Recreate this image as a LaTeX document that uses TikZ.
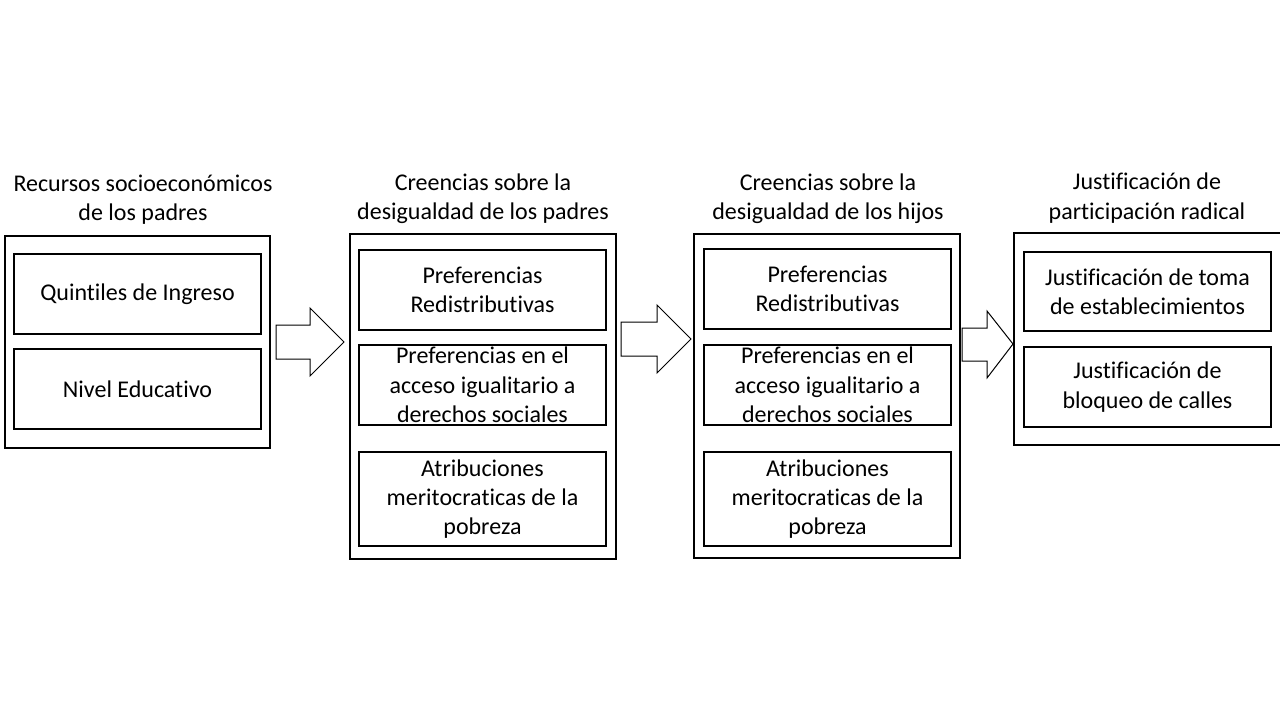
\documentclass[tikz,border=0pt]{standalone}
\usepackage{fontspec}
\setmainfont{Carlito}[RawFeature={-liga;-dlig;-clig}]
\usetikzlibrary{fit}
\tikzset{
  box/.style={draw=black, line width=0.95pt, inner sep=0pt, fill=none},
  txt/.style={align=center, inner sep=0pt, font=\fontsize{18}{22}\selectfont},
  blockarrow/.style={draw=black, line width=0.75pt, fill=white, line join=miter}
}
\begin{document}
\begin{tikzpicture}[x=0.75pt, y=-0.75pt]
\useasboundingbox (0,0) rectangle (1280,720);
\fill[white] (0,0) rectangle (1280,720);

% titles
\node[txt] (t1) at (143,200) {Recursos socioeconómicos\\de los padres};
\node[txt] (t2) at (483,199) {Creencias sobre la\\desigualdad de los padres};
\node[txt] (t3) at (828,199) {Creencias sobre la\\desigualdad de los hijos};
\node[txt] (t4) at (1147,198) {Justificación de\\participación radical};

% group 1
\node[box, fit={(5,236) (270,448)}] (g1) {};
\node[box, fit={(14,254) (261,334)}] (b11) {};
\node[txt] at (b11.center) {Quintiles de Ingreso};
\node[box, fit={(14,349) (261,429)}] (b12) {};
\node[txt] at (b12.center) {Nivel Educativo};

% group 2
\node[box, fit={(350,234) (616,559)}] (g2) {};
\node[box, fit={(359,250) (606,330)}] (b21) {};
\node[txt] at (b21.center) {Preferencias\\Redistributivas};
\node[box, fit={(359,345) (606,425)}] (b22) {};
\node[txt] at (b22.center) {Preferencias en el\\acceso igualitario a\\derechos sociales};
\node[box, fit={(359,452) (606,546)}] (b23) {};
\node[txt] at (b23.center) {Atribuciones\\meritocraticas de la\\pobreza};

% group 3
\node[box, fit={(694,234) (960,558)}] (g3) {};
\node[box, fit={(704,249) (951,329)}] (b31) {};
\node[txt] at (b31.center) {Preferencias\\Redistributivas};
\node[box, fit={(704,345) (951,425)}] (b32) {};
\node[txt] at (b32.center) {Preferencias en el\\acceso igualitario a\\derechos sociales};
\node[box, fit={(704,452) (951,546)}] (b33) {};
\node[txt] at (b33.center) {Atribuciones\\meritocraticas de la\\pobreza};

% group 4 (runs past the right edge)
\draw[box] (1290,233) -- (1014,233) -- (1014,445) -- (1290,445);
\coordinate (g4) at (1147,339);
\node[box, fit={(1024,252) (1271,331)}] (b41) {};
\node[txt] at (b41.center) {Justificación de toma\\de establecimientos};
\node[box, fit={(1024,347) (1271,427)}] (b42) {};
\node[txt] at (b42.center) {Justificación de\\bloqueo de calles};

% block arrows
\draw[blockarrow] (276,325) -- (310,325) -- (310,308) -- (344,342) -- (310,376) -- (310,359) -- (276,359) -- cycle;
\draw[blockarrow] (621,322) -- (657,322) -- (657,305) -- (691,339) -- (657,373) -- (657,356) -- (621,356) -- cycle;
\draw[blockarrow] (962,328) -- (987,328) -- (987,311) -- (1013,344) -- (987,378) -- (987,361) -- (962,361) -- cycle;
\end{tikzpicture}
\end{document}
